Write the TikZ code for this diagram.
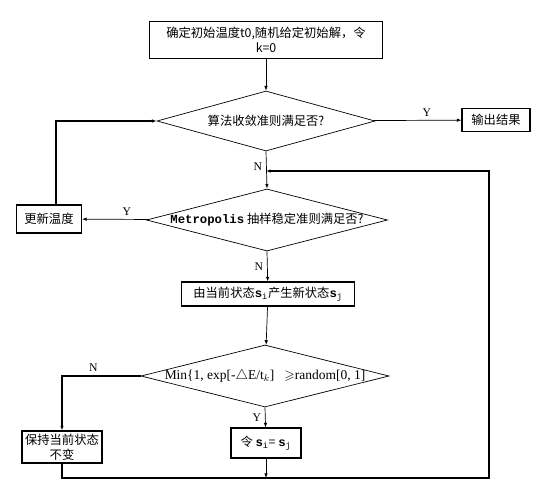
\documentclass[tikz,border=0pt]{standalone}
\usepackage{fontspec}
\usepackage{amssymb}
\setmainfont{Liberation Serif}
\setmonofont{Liberation Mono}
\newfontfamily\cjk{Noto Sans CJK SC}
\usetikzlibrary{shapes.geometric,arrows.meta}

\begin{document}
\begin{tikzpicture}[
    x=0.03cm, y=-0.03cm,
    every node/.style={font=\cjk\fontsize{10.5}{13}\selectfont},
    >={Latex[length=4pt,width=3pt]},
    procbox/.style={draw, line width=0.9pt, inner sep=1pt, align=center},
    decision/.style={diamond, draw, line width=0.6pt, inner sep=0pt},
    flow/.style={->, line width=0.6pt},
    loopline/.style={->, line width=1pt},
    yn/.style={font=\fontsize{10}{12}\selectfont},
]

\useasboundingbox (0,0) rectangle (552,491);

% === Boxes ===
\node[procbox, minimum width=6.99cm, minimum height=1.11cm] (init) at (266,40)
    {确定初始温度t0,随机给定初始解，令\\k=0};
\node[procbox, minimum width=2.04cm, minimum height=0.69cm] (out) at (496,120) {输出结果};
\node[procbox, minimum width=1.95cm, minimum height=0.84cm] (upd) at (49,219) {更新温度};
\node[procbox, minimum width=5.19cm, minimum height=0.72cm] (gen) at (268,294)
    {由当前状态\textbf{\texttt{s}}\textsubscript{\texttt{i}}产生新状态\textbf{\texttt{s}}\textsubscript{\texttt{j}}};
\node[procbox, minimum width=2.4cm, minimum height=0.96cm] (keep) at (62,447)
    {保持当前状态\\不变};
\node[procbox, minimum width=2.1cm, minimum height=0.9cm] (acc) at (266,443)
    {令 \textbf{\texttt{s}}\textsubscript{\texttt{i}}= \textbf{\texttt{s}}\textsubscript{\texttt{j}}};

% === Decisions ===
\node[decision, minimum width=6.54cm, minimum height=1.8cm] (conv) at (266,121) {};
\node at (conv) {算法收敛准则满足否?};
\node[decision, minimum width=7.23cm, minimum height=1.86cm] (metro) at (267,220) {};
\node at (metro) {\texttt{\bfseries Metropolis} 抽样稳定准则满足否?};
\node[decision, minimum width=7.44cm, minimum height=1.86cm] (test) at (265,376) {};
\node[font=\fontsize{11.5}{13}\selectfont] at (test)
    {Min\{1, exp[-$\triangle$E/t$_k$] \ \ $\geqslant$random[0, 1]};

% === Connectors ===
\coordinate (merge) at (266,171);
\coordinate (loopR) at (489,478);

\draw[flow] (init) -- (conv);
\draw[flow] (conv) -- (out) node[yn, midway, above, xshift=8pt] {Y};
\draw[flow] (conv.south) -- (metro.north) node[yn, pos=0.42, left] {N};
\draw[flow] (metro) -- (upd) node[yn, midway, above, xshift=10pt] {Y};
\draw[loopline] ([xshift=6pt]upd.north) |- (conv.west);
\draw[flow] (metro.south) -- (gen) node[yn, midway, left] {N};
\draw[flow] (gen) -- (test);
\draw[loopline] (test.west) -| (keep.north) node[yn, pos=0.3, above] {N};
\draw[flow] (test.south) -- (acc) node[yn, midway, left] {Y};

% return loop
\draw[loopline] (keep.south) |- (loopR) |- (merge);
\draw[flow] (acc.south) -- (acc.south |- loopR);

\end{tikzpicture}
\end{document}
